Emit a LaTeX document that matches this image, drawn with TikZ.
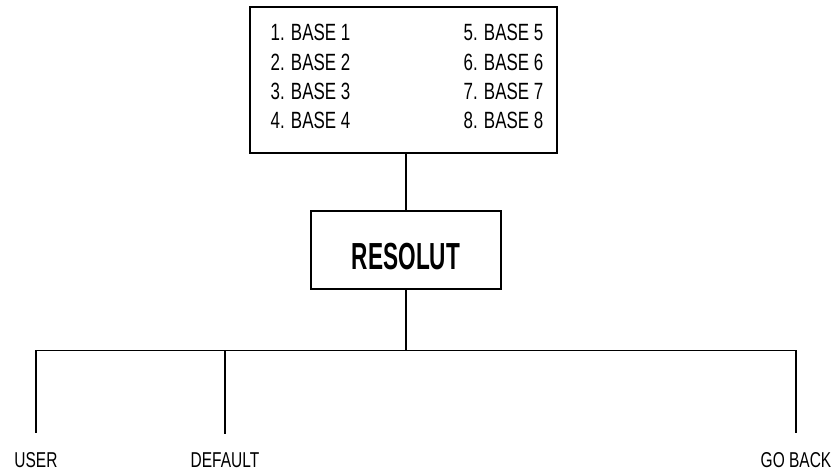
\documentclass[tikz,border=0pt]{standalone}
\usepackage{fontspec}
\setmainfont{Liberation Sans}[FakeStretch=0.72]
\newfontfamily\resfont{Liberation Sans}[FakeStretch=0.6]
\usepackage{tikz}
\usetikzlibrary{positioning,calc}

\begin{document}
\begin{tikzpicture}[x=1pt,y=1pt,line width=1.2pt,
  box/.style={draw,inner sep=0},
  entry/.style={anchor=base west,inner sep=0,font=\fontsize{23.5}{26}\selectfont},
  choice/.style={anchor=base,inner sep=0,font=\fontsize{21.5}{24}\selectfont},
  drop/.style={shorten >=18pt}
]
  \useasboundingbox (0,0) rectangle (839,-475);
  \node[box,minimum width=307,minimum height=146] (menu) at (403.5,-80) {};
  \node[entry] (b1) at (270,-40) {1. BASE 1};
  \node[entry] (b2) at (270,-70) {2. BASE 2};
  \node[entry] (b3) at (270,-99) {3. BASE 3};
  \node[entry] (b4) at (270,-128) {4. BASE 4};
  \node[entry] (b5) at (463,-40) {5. BASE 5};
  \node[entry] (b6) at (463,-70) {6. BASE 6};
  \node[entry] (b7) at (463,-99) {7. BASE 7};
  \node[entry] (b8) at (463,-128) {8. BASE 8};
  \node[box,minimum width=190,minimum height=78,text height=38pt,text depth=0pt,
        font=\resfont\bfseries\fontsize{37.7}{40}\selectfont] (res) at (406,-250) {RESOLUT};
  \node[choice] (user) at (36,-467) {USER};
  \node[choice] (dflt) at (225,-467) {DEFAULT};
  \node[choice] (back) at (796,-467) {GO BACK};
  \coordinate (bus) at ($(res.south)+(0,-61)$);
  \draw (res.north) -- (res.north |- menu.south);
  \draw (res.south) -- (bus);
  \draw[drop] (bus) -| (user.north);
  \draw[drop] (bus) -| (dflt.north);
  \draw[drop] (bus) -| (back.north);
\end{tikzpicture}
\end{document}
